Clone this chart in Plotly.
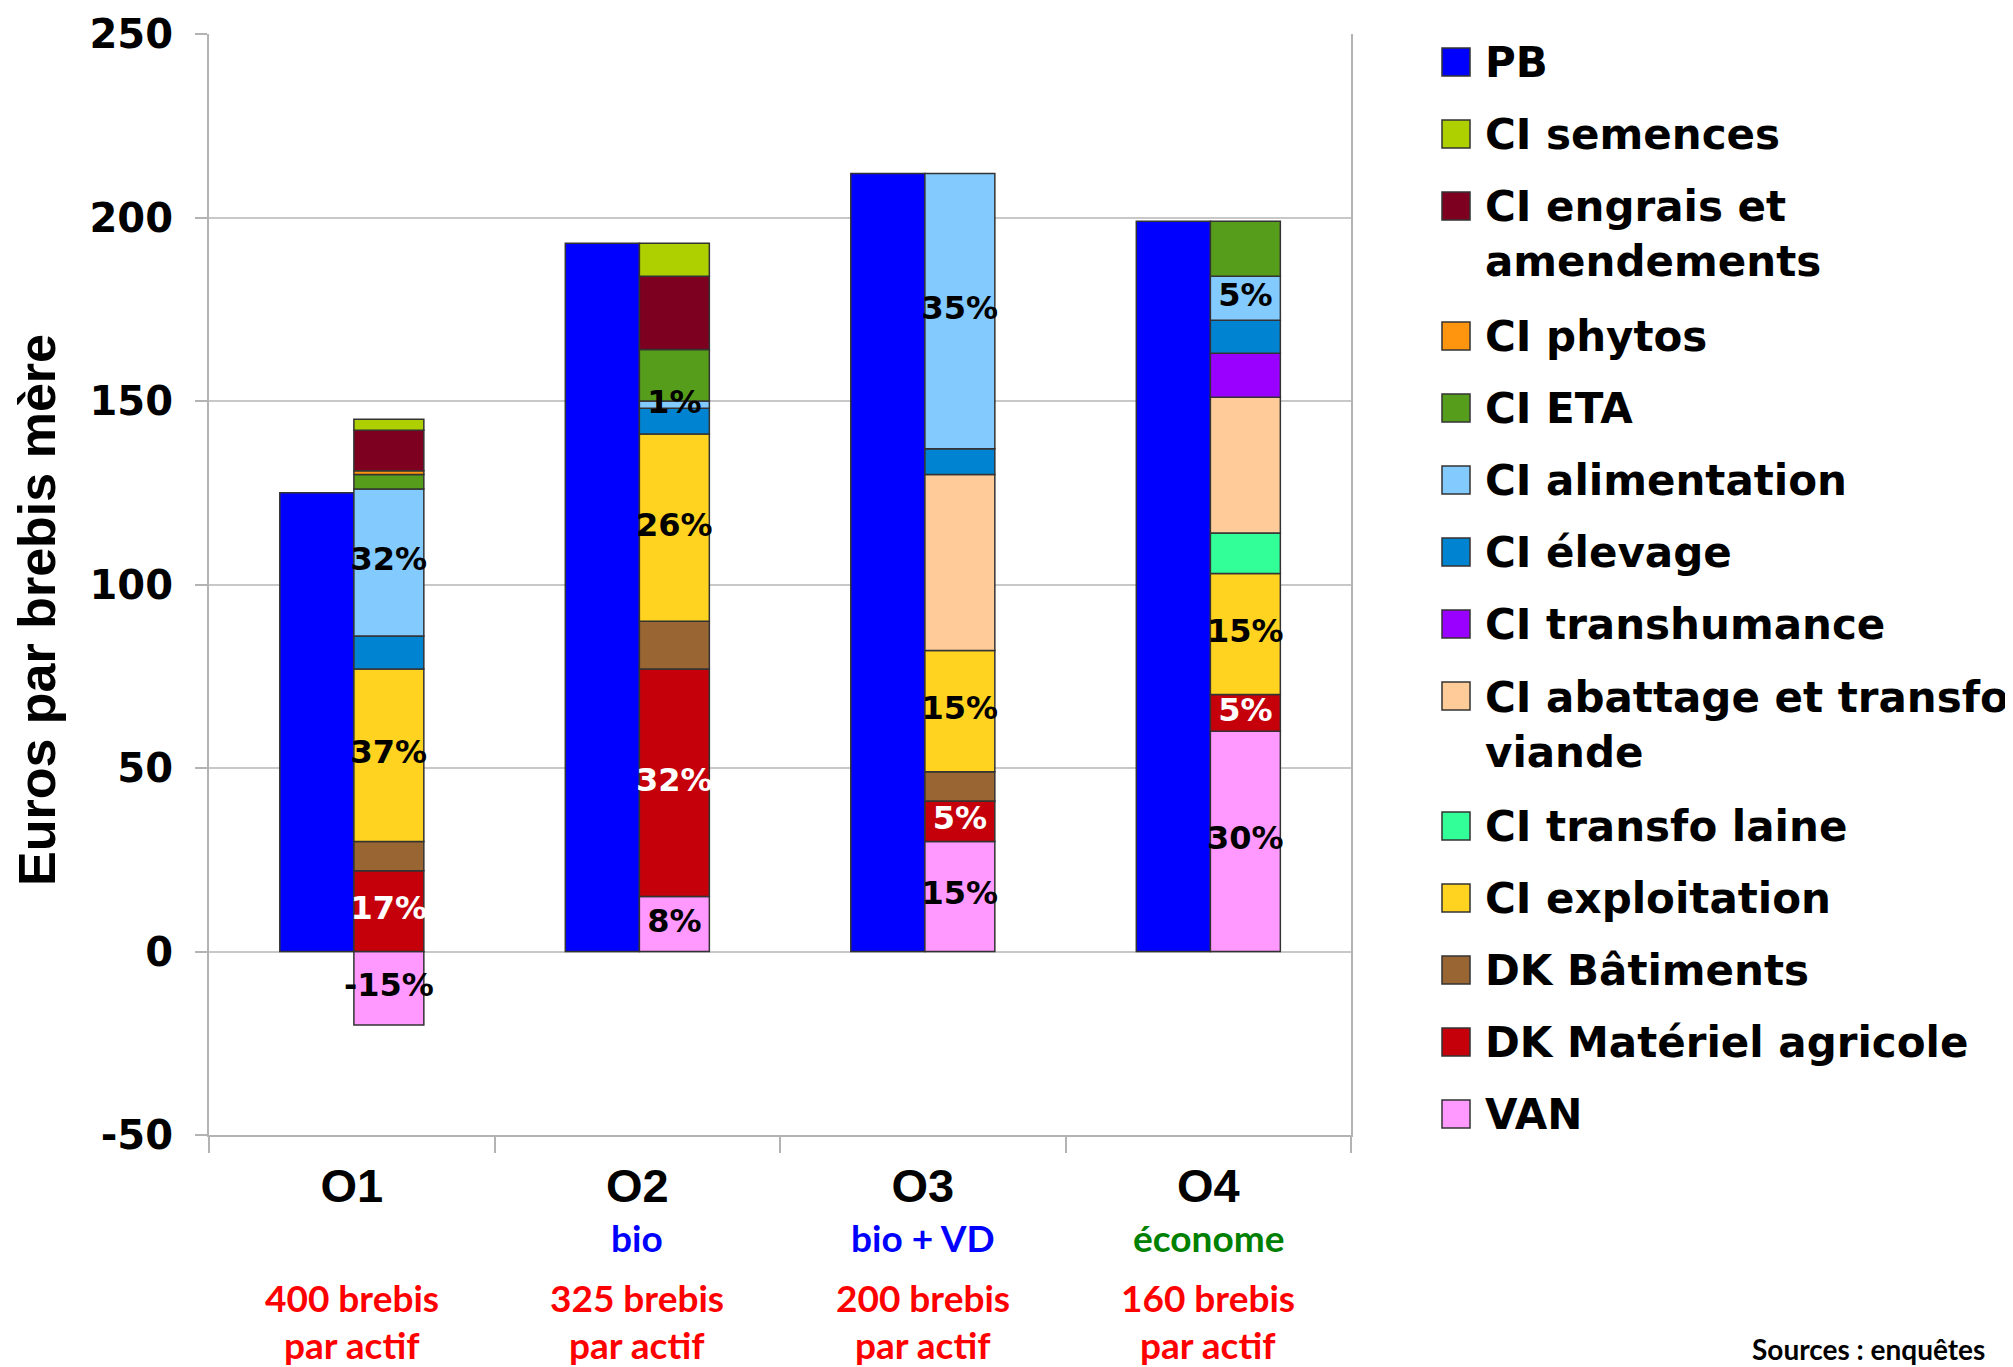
import numpy as np
import plotly.graph_objects as go

# ---------------- data ----------------
groups = ["O1", "O2", "O3", "O4"]
group_tags = ["", "bio", "bio + VD", "économe"]
tag_colors = ["#0000ff", "#0000ff", "#0000ff", "#008000"]
herd_line1 = ["400 brebis", "325 brebis", "200 brebis", "160 brebis"]
herd_line2 = ["par actif", "par actif", "par actif", "par actif"]

y_ticks = [-50, 0, 50, 100, 150, 200, 250]

pb = [125, 193, 212, 199]

# stack series, bottom to top (None = absent)
van = [-20, 15, 30, 60]
dk_materiel = [22, 62, 11, 10]
dk_batiments = [8, 13, 8, None]
ci_exploitation = [47, 51, 33, 33]
ci_transfo_laine = [None, None, None, 11]
ci_abattage = [None, None, 48, 37]
ci_transhumance = [None, None, None, 12]
ci_elevage = [9, 7, 7, 9]
ci_alimentation = [40, 2, 75, 12]
ci_eta = [4, 14, None, 15]
ci_phytos = [1, None, None, None]
ci_engrais = [11, 20, None, None]
ci_semences = [3, 9, None, None]

# percentage labels
pct_van = ["-15%", "8%", "15%", "30%"]
pct_materiel = ["17%", "32%", "5%", "5%"]
pct_exploitation = ["37%", "26%", "15%", "15%"]
pct_alimentation = ["32%", "1%", "35%", "5%"]

stack = [
    ("VAN", van, "#ff99ff"),
    ("DK Matériel agricole", dk_materiel, "#c5000b"),
    ("DK Bâtiments", dk_batiments, "#996633"),
    ("CI exploitation", ci_exploitation, "#ffd320"),
    ("CI transfo laine", ci_transfo_laine, "#33ff99"),
    ("CI abattage et transfo<br>viande", ci_abattage, "#ffcc99"),
    ("CI transhumance", ci_transhumance, "#9900ff"),
    ("CI élevage", ci_elevage, "#0084d1"),
    ("CI alimentation", ci_alimentation, "#83caff"),
    ("CI ETA", ci_eta, "#579d1c"),
    ("CI phytos", ci_phytos, "#ff950e"),
    ("CI engrais et<br>amendements", ci_engrais, "#7e0021"),
    ("CI semences", ci_semences, "#aecf00"),
]
pb_name, pb_color = "PB", "#0000ff"

labels = {
    "VAN": (pct_van, "black"),
    "DK Matériel agricole": (pct_materiel, "white"),
    "CI exploitation": (pct_exploitation, "black"),
    "CI alimentation": (pct_alimentation, "black"),
}

# ---------------- geometry (window pixels, page has an 8px body margin) ----------------
OFF = 8
W, H = 2013 - OFF, 1367 - OFF
L, R, T, B = 209, 1351, 34, 1135
pw, ph = R - L, B - T


def px_x(x):
    return (x - L) / pw


def px_y(y):
    return 1 - (y - T) / ph


xpos = np.arange(len(groups))
pb_w, st_w = 0.26, 0.245
x_pb = xpos - 0.122
x_st = xpos + 0.13

outline = dict(color="#333333", width=1.5)

fig = go.Figure()
fig.add_trace(go.Bar(x=x_pb, y=pb, width=pb_w, name=pb_name,
                     marker=dict(color=pb_color, line=outline), showlegend=False))

pos_cum = np.zeros(len(groups))
neg_cum = np.zeros(len(groups))
lab_x, lab_y, lab_t, lab_c = [], [], [], []
for name, vals, col in stack:
    fig.add_trace(go.Bar(x=x_st, y=vals, width=st_w, name=name.replace("<br>", " "),
                         marker=dict(color=col, line=outline), showlegend=False))
    for i, v in enumerate(vals):
        if v is None:
            continue
        if v >= 0:
            c = pos_cum[i] + v / 2
            pos_cum[i] += v
        else:
            c = neg_cum[i] + v / 2
            neg_cum[i] += v
        if name in labels:
            lab_x.append(x_st[i])
            lab_y.append(c)
            lab_t.append(labels[name][0][i])
            lab_c.append(labels[name][1])

fig.add_trace(go.Scatter(x=lab_x, y=lab_y, text=lab_t, mode="text",
                         textposition="middle center", showlegend=False,
                         textfont=dict(family="DejaVu Sans", size=32, weight="bold", color=lab_c),
                         hoverinfo="skip"))

annotations = []
shapes = []

# y title
annotations.append(dict(text="Euros par brebis mère", xref="paper", yref="paper",
                        x=px_x(37), y=px_y(610), textangle=-90, showarrow=False,
                        xanchor="center", yanchor="middle",
                        font=dict(family="Liberation Sans", size=52, weight="bold", color="black")))

# sub labels under categories
for i in range(len(groups)):
    if group_tags[i]:
        annotations.append(dict(text=group_tags[i], xref="x", yref="paper", x=xpos[i], y=px_y(1237),
                                showarrow=False, xanchor="center", yanchor="middle",
                                font=dict(family="Lato", size=37, weight="bold", color=tag_colors[i])))
    annotations.append(dict(text=herd_line1[i], xref="x", yref="paper", x=xpos[i], y=px_y(1297),
                            showarrow=False, xanchor="center", yanchor="middle",
                            font=dict(family="Lato", size=37, weight="bold", color="#ff0000")))
    annotations.append(dict(text=herd_line2[i], xref="x", yref="paper", x=xpos[i], y=px_y(1344),
                            showarrow=False, xanchor="center", yanchor="middle",
                            font=dict(family="Lato", size=37, weight="bold", color="#ff0000")))

annotations.append(dict(text="Sources : enquêtes", xref="paper", yref="paper",
                        x=px_x(1987), y=px_y(1349), showarrow=False, xanchor="right", yanchor="middle",
                        font=dict(family="Lato", size=28, weight="bold", color="black")))

# manual legend (top to bottom: PB then stack reversed)
legend_items = [(pb_name, pb_color)] + [(n, c) for n, _, c in reversed(stack)]
row_y = 62
for name, col in legend_items:
    nlines = name.count("<br>") + 1
    shapes.append(dict(type="rect", xref="paper", yref="paper",
                       x0=px_x(1442), x1=px_x(1470), y0=px_y(row_y - 14), y1=px_y(row_y + 14),
                       fillcolor=col, line=dict(color="#333333", width=1.5)))
    annotations.append(dict(text=name, xref="paper", yref="paper", x=px_x(1483),
                            y=px_y(row_y + (nlines - 1) * 57 / 2), showarrow=False,
                            xanchor="left", yanchor="middle", align="left",
                            font=dict(family="DejaVu Sans", size=42, weight="bold", color="black")))
    row_y += 72 + 58 * (nlines - 1)

fig.update_layout(
    width=W, height=H,
    margin=dict(l=L - OFF, r=2013 - R, t=T - OFF, b=1367 - B, autoexpand=False),
    barmode="relative",
    plot_bgcolor="white", paper_bgcolor="white",
    showlegend=False,
    annotations=annotations, shapes=shapes,
    xaxis=dict(range=[-0.5, len(groups) - 0.5], tickvals=xpos, ticktext=groups, ticks="",
               showgrid=False, zeroline=False, showline=True, linecolor="#b3b3b3", linewidth=2,
               tickfont=dict(family="Liberation Sans", size=47, weight="bold", color="black"),
               ticklabelstandoff=9, automargin=False,
               minor=dict(tickvals=np.arange(-0.5, len(groups), 1.0), ticks="outside", ticklen=16,
                          tickcolor="#b3b3b3", tickwidth=2, showgrid=False)),
    yaxis=dict(range=[-50, 250], tickvals=y_ticks, ticktext=[str(v) for v in y_ticks],
               showgrid=True, gridcolor="#c8c8c8", gridwidth=2,
               zeroline=False, showline=True, linecolor="#b3b3b3", linewidth=2, mirror=True,
               ticks="outside", ticklen=12, tickcolor="#b3b3b3", tickwidth=2,
               ticklabelstandoff=14, automargin=False,
               tickfont=dict(family="DejaVu Sans", size=40, weight="bold", color="black")),
)

fig.write_html("out.html")
